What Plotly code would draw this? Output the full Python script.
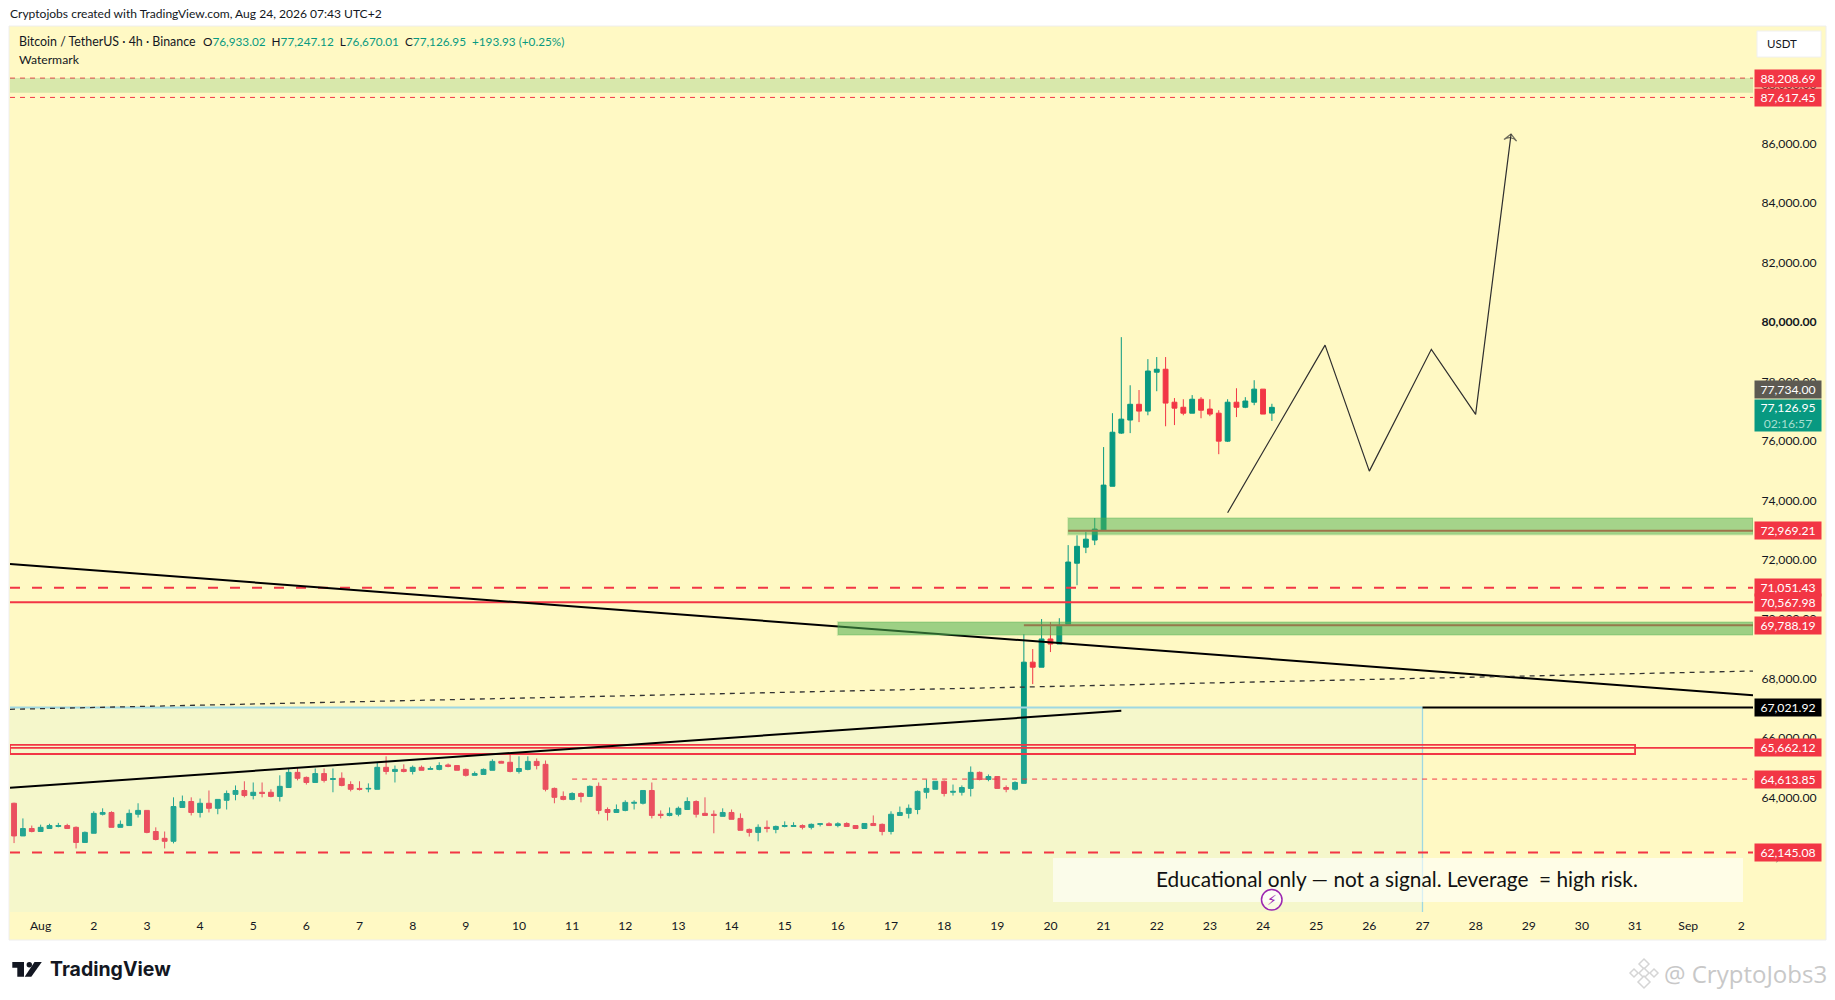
"""
BTC/USDT 4h chart with drawn levels, zones and projected path
"""
import pandas as pd
import plotly.graph_objects as go

# 4h bars, first one on Jul 31 12:00
bar_start = "2026-07-31 12:00"
opens = [
    63800, 62700, 62950, 62850, 62950, 63020, 63050, 62990, 62480, 62790, 63430, 63490,
    62990, 63050, 63430, 63560, 62850, 62620, 62520, 63660, 63860, 63490, 63800, 63630,
    63900, 64100, 64230, 64060, 64170, 64170, 64030, 64330, 64840, 64670, 64500, 64800,
    64600, 64640, 64430, 64300, 64280, 64270, 65010, 64870, 64940, 64870, 65010, 64940,
    64940, 65090, 65070, 64940, 64740, 64770, 64910, 65210, 65180, 64870, 64940, 65210,
    65110, 64300, 64030, 63930, 64130, 64030, 64370, 63590, 63490, 63560, 63800, 63800,
    64230, 63430, 63390, 63430, 63590, 63860, 63460, 63430, 63360, 63490, 63290, 62920,
    62820, 62990, 62920, 63020, 63020, 63050, 62990, 63090, 63110, 63050, 63120, 63050,
    62950, 63120, 63090, 62850, 63390, 63460, 63590, 64170, 64270, 64540, 64170, 64170,
    64300, 64840, 64600, 64700, 64330, 64270, 64470, 68550, 68380, 69330, 69160, 69830,
    71880, 72420, 72660, 72990, 74470, 76260, 76700, 77230, 77000, 78310, 78410, 77300,
    77130, 76930, 77400, 77070, 76930, 75990, 77300, 77130, 77300, 77740, 76933.02,
]
highs = [
    63820, 63290, 63050, 63080, 63110, 63140, 63110, 63020, 62850, 63530, 63630, 63530,
    63220, 63590, 63800, 63560, 62990, 62850, 64000, 64060, 64000, 63960, 64230, 63930,
    64230, 64400, 64540, 64500, 64500, 64270, 64740, 64970, 65010, 64700, 64970, 64970,
    64970, 64840, 64540, 64540, 64470, 65180, 65380, 65070, 65110, 65070, 65070, 65040,
    65180, 65140, 65070, 64970, 64870, 64970, 65280, 65230, 65440, 65380, 65380, 65310,
    65240, 64330, 64200, 64170, 64170, 64400, 64500, 63660, 63760, 63900, 63900, 64230,
    64500, 63560, 63660, 63690, 64000, 63900, 64000, 63560, 63630, 63590, 63460, 62950,
    63090, 63220, 63050, 63190, 63160, 63090, 63120, 63120, 63160, 63160, 63160, 63050,
    63120, 63390, 63120, 63530, 63690, 63760, 64230, 64600, 64540, 64570, 64430, 64400,
    65040, 64870, 64770, 64700, 64400, 64540, 69490, 68990, 70000, 69900, 70030, 72490,
    72820, 72930, 73400, 75790, 76930, 79490, 77870, 77710, 78750, 78820, 78820, 77440,
    77400, 77540, 77470, 77400, 77030, 77400, 77770, 77470, 78040, 77740, 77247.12,
]
lows = [
    62460, 62700, 62820, 62850, 62950, 62990, 62950, 62280, 62480, 62790, 63390, 62990,
    62990, 63050, 63320, 62790, 62550, 62280, 62450, 63660, 63390, 63320, 63490, 63430,
    63590, 63900, 64000, 63930, 64000, 64000, 63860, 64330, 64570, 64430, 64500, 64500,
    64170, 64370, 64200, 64230, 64170, 64270, 64770, 64500, 64840, 64770, 64910, 64940,
    64910, 65010, 64910, 64700, 64740, 64770, 64910, 65150, 64840, 64800, 64910, 64940,
    64200, 63800, 63900, 63900, 63830, 64030, 63430, 63220, 63490, 63530, 63590, 63760,
    63290, 63290, 63360, 63360, 63590, 63320, 63390, 62790, 63360, 63260, 62890, 62680,
    62520, 62820, 62790, 62990, 63020, 62920, 62920, 63020, 63050, 62990, 63020, 62950,
    62950, 63050, 62720, 62750, 63390, 63290, 63430, 63960, 64270, 64030, 64060, 64060,
    64030, 64570, 64540, 64300, 64170, 64230, 64470, 67810, 68380, 68890, 69160, 69830,
    71140, 72220, 72490, 72990, 74470, 76230, 76260, 76630, 76860, 77670, 76490, 76530,
    76860, 76930, 76760, 76830, 75550, 75960, 76800, 77100, 77200, 76900, 76670.01,
]
closes = [
    62700, 62950, 62850, 62990, 63050, 63050, 62950, 62480, 62820, 63460, 63490, 62990,
    63090, 63460, 63560, 62820, 62580, 62520, 63690, 63860, 63490, 63800, 63630, 63930,
    64130, 64230, 64060, 64170, 64130, 64030, 64370, 64840, 64640, 64500, 64800, 64570,
    64630, 64400, 64270, 64270, 64300, 65010, 64870, 64940, 64870, 65010, 64910, 64970,
    65070, 65040, 64910, 64740, 64800, 64940, 65210, 65150, 64870, 64970, 65210, 65070,
    64270, 64000, 63930, 64130, 64030, 64370, 63560, 63490, 63590, 63830, 63830, 64230,
    63390, 63390, 63460, 63630, 63860, 63430, 63390, 63390, 63490, 63260, 62890, 62820,
    62990, 62950, 63020, 63050, 63050, 62990, 63090, 63110, 63050, 63110, 63020, 62950,
    63120, 63050, 62850, 63430, 63490, 63630, 64200, 64300, 64540, 64130, 64200, 64330,
    64840, 64600, 64700, 64300, 64270, 64500, 68550, 68380, 69330, 69160, 69760, 71920,
    72450, 72690, 73030, 74510, 76290, 76730, 77230, 77000, 78350, 78410, 77270, 77100,
    76930, 77400, 77030, 76900, 75990, 77300, 77130, 77340, 77740, 76900, 77126.95,
]

# axis
x_range = ["2026-07-31 10:10", "2026-09-02 05:15"]
y_range = [60140, 89930]
price_ticks = [62000 + 2000 * i for i in range(14)]
price_tick_labels = [f"<b>{p:,.2f}</b>" if p == 80000 else f"{p:,.2f}" for p in price_ticks]
date_ticks = [f"2026-08-{d:02d}" for d in range(1, 32)] + ["2026-09-01", "2026-09-02"]
date_labels = ["Aug"] + [str(d) for d in range(2, 32)] + ["Sep", "2"]

# drawn levels
level_top = 88208.69
level_top_low = 87617.45
level_zone_high = 72969.21
level_dash_mid = 71051.43
level_solid_mid = 70567.98
level_zone_mid = 69788.19
level_box = 67021.92
level_range = 65662.12
level_dash_thin = 64613.85
level_dash_low = 62145.08
last_high = 77734.00
last_close = 77126.95

# trend lines: (x0, x1), (y0, y1)
falling_x = ["2026-07-31 10:10", "2026-09-02 05:15"]
falling_y = [71854, 67434]
rising_x = ["2026-07-31 10:10", "2026-08-21 08:00"]
rising_y = [64324, 66915]
dashed_x = ["2026-07-31 10:10", "2026-09-02 05:15"]
dashed_y = [66962, 68251]

# projected path
path_x = ["2026-08-23 08:00", "2026-08-25 04:00", "2026-08-26 00:00",
          "2026-08-27 04:00", "2026-08-28 00:00", "2026-08-28 16:00"]
path_y = [73580, 79220, 74980, 79080, 76890, 86326]

RED = "#F23645"
GREEN = "#089981"
TEXT = "#131722"
PANEL = "#FFF9C4"
BOX_LINE = "#9FD8E2"
FONT = "Lato"


def px_x(x):
    """pixel to paper coordinates, plot area is x 10..1753"""
    return (x - 10) / 1743


def px_y(y):
    """pixel to paper coordinates, plot area is y 27..912"""
    return 1 - (y - 27) / 885


def paper_rect(x0, y0, x1, y1, **kwargs):
    return dict(type="rect", xref="paper", yref="paper", x0=px_x(x0), x1=px_x(x1),
                y0=px_y(y0), y1=px_y(y1), **kwargs)


def paper_path(points, **kwargs):
    path = "M" + " L".join(f"{px_x(x)},{px_y(y)}" for x, y in points) + " Z"
    return dict(type="path", xref="paper", yref="paper", path=path, **kwargs)


def hline(y, color, width, dash="solid", x0=None, x1=None):
    """horizontal line, by default across the whole plot"""
    return dict(type="line", xref="x", yref="y", x0=x0 or x_range[0], x1=x1 or x_range[1], y0=y, y1=y,
                line=dict(color=color, width=width, dash=dash), layer="above")


def segment(xs, ys, color, width, dash="solid"):
    return dict(type="line", xref="x", yref="y", x0=xs[0], x1=xs[1], y0=ys[0], y1=ys[1],
                line=dict(color=color, width=width, dash=dash), layer="above")


def zone(x0, y0, y1, alpha):
    return dict(type="rect", xref="x", yref="y", x0=x0, x1=x_range[1], y0=y0, y1=y1,
                fillcolor=f"rgba(76,175,80,{alpha})",
                line=dict(color="rgba(76,175,80,0.2)", width=2), layer="above")


def price_label(price, bg=RED, shift=0):
    return dict(xref="paper", yref="y", x=1, y=price, xanchor="left", xshift=1, yshift=shift,
                text=f"{price:,.2f}", showarrow=False, width=66, height=17,
                bgcolor=bg, borderpad=0, font=dict(family=FONT, size=12.2, color="white"))


def page_text(x, y, text, size, color=TEXT, family=FONT, anchor="left"):
    return dict(xref="paper", yref="paper", x=px_x(x), y=px_y(y), xanchor=anchor, yanchor="middle",
                text=text, showarrow=False, borderpad=0, font=dict(family=family, size=size, color=color))


bar_times = pd.date_range(bar_start, periods=len(opens), freq="4h")

fig = go.Figure()
fig.add_trace(go.Candlestick(
    x=bar_times, open=opens, high=highs, low=lows, close=closes,
    increasing=dict(line=dict(color=GREEN, width=1), fillcolor=GREEN),
    decreasing=dict(line=dict(color=RED, width=1), fillcolor=RED),
    whiskerwidth=0,
))
fig.add_trace(go.Scatter(
    x=path_x, y=path_y, mode="lines", line=dict(color="#2f2f2f", width=1.2),
))
fig.add_trace(go.Scatter(
    x=path_x[-2:], y=path_y[-2:], mode="markers",
    marker=dict(symbol="arrow-wide-open", size=[0, 9], angleref="previous",
                color="#2f2f2f", line=dict(color="#2f2f2f", width=1.2)),
))

shapes = [
    # outer frame and panels behind the axes
    paper_rect(9, 26, 1826, 940, fillcolor=PANEL, line=dict(color="#EEEEEE", width=1), layer="below"),
    # drawn range box, only top and right edges show
    dict(type="rect", xref="x", yref="y", x0=x_range[0], x1="2026-08-27", y0=y_range[0], y1=level_box,
         fillcolor="rgba(190,235,245,0.15)", line_width=0, layer="above"),
    hline(level_box, BOX_LINE, 2, x1="2026-08-27"),
    dict(type="line", xref="x", yref="y", x0="2026-08-27", x1="2026-08-27", y0=y_range[0], y1=level_box,
         line=dict(color=BOX_LINE, width=1.3), layer="above"),
    hline(level_box, "#000000", 2, x0="2026-08-27"),
    # red levels
    hline(level_top, RED, 1, "5px,5px"),
    hline(87560, RED, 1, "5px,5px"),
    hline(level_dash_mid, RED, 2, "10px,12px"),
    hline(level_solid_mid, RED, 2),
    hline(level_range, RED, 1.8),
    hline(level_dash_thin, RED, 1, "5px,5px", x0="2026-08-11"),
    hline(level_dash_low, RED, 2, "10px,12px"),
    dict(type="rect", xref="x", yref="y", x0=x_range[0], x1="2026-08-31", y0=65458, y1=65765,
         line=dict(color=RED, width=1.8), layer="above"),
    hline(level_zone_high, RED, 2, x0="2026-08-20 08:00"),
    hline(level_zone_mid, RED, 2, x0="2026-08-19 12:00"),
    # trend lines
    segment(falling_x, falling_y, "#000000", 2),
    segment(rising_x, rising_y, "#000000", 2),
    segment(dashed_x, dashed_y, "#333333", 1.3, "5px,5px"),
    # green zones
    dict(type="rect", xref="x", yref="y", x0=x_range[0], x1=x_range[1], y0=87716, y1=88211,
         fillcolor="rgba(76,175,80,0.22)", line_width=0, layer="above"),
    zone("2026-08-20 08:00", 72845, 73400, 0.5),
    zone("2026-08-16", 69463, 69901, 0.55),
    # note box and lightning badge
    paper_rect(1053, 858, 1743, 902, fillcolor="rgba(255,255,255,0.6)", line_width=0),
    dict(type="circle", xref="paper", yref="paper", x0=px_x(1261.5), x1=px_x(1282), y0=px_y(889.5), y1=px_y(910),
         fillcolor="rgba(255,255,255,0.5)", line=dict(color="#9C27B0", width=1.5)),
    # currency button
    dict(type="rect", xref="paper", yref="paper", x0=px_x(1757), x1=px_x(1821), y0=px_y(31), y1=px_y(57),
         fillcolor="white", line=dict(color="#F0F0F0", width=1)),
    # TradingView logo
    paper_path([(12.3, 962), (24, 962), (24, 976.7), (17.3, 976.7), (17.3, 967.7), (12.3, 967.7)],
               fillcolor="#131722", line_width=0),
    dict(type="circle", xref="paper", yref="paper", x0=px_x(26.6), x1=px_x(32), y0=px_y(962), y1=px_y(967.4),
         fillcolor="#131722", line_width=0),
    paper_path([(34.5, 962), (41.8, 962), (31.3, 976.7), (24.7, 976.7)], fillcolor="#131722", line_width=0),
]
# binance style diamonds in the watermark
for cx, cy, r in [(1644, 964, 5), (1644, 973, 5), (1634, 973, 4), (1654, 973, 4), (1644, 982, 6)]:
    shapes.append(paper_path([(cx, cy - r), (cx + r, cy), (cx, cy + r), (cx - r, cy)],
                             fillcolor="white", line=dict(color="#D5D5D5", width=1.5)))

legend_values = (
    f"<span style='color:{TEXT}'>O</span>76,933.02\u00a0\u00a0"
    f"<span style='color:{TEXT}'>H</span>77,247.12\u00a0\u00a0"
    f"<span style='color:{TEXT}'>L</span>76,670.01\u00a0\u00a0"
    f"<span style='color:{TEXT}'>C</span>77,126.95\u00a0\u00a0+193.93 (+0.25%)"
)

annotations = [
    page_text(9, 14, "Cryptojobs created with TradingView.com, Aug 24, 2026 07:43 UTC+2", 12.05),
    page_text(18, 41, "Bitcoin / TetherUS · 4h · Binance", 12.4),
    page_text(202, 41, legend_values, 11.75, color=GREEN),
    page_text(18, 59, "Watermark", 12.2),
    page_text(1766, 44, "USDT", 11.5),
    page_text(1397, 878, "Educational only — not a signal. Leverage  = high risk.", 20.8, color="#111111", anchor="center"),
    page_text(1271.8, 899.5, "⚡", 14, color="#9C27B0", family="DejaVu Sans", anchor="center"),
    page_text(49, 969, "<b>TradingView</b>", 19.5, color="#131722", family="Inter"),
    page_text(1663, 973, "@ CryptoJobs3", 24, color="#C8C8C8", family="Open Sans"),
    price_label(level_top),
    price_label(level_top_low, shift=-2),
    price_label(level_zone_high),
    price_label(level_dash_mid),
    price_label(level_solid_mid),
    price_label(level_zone_mid),
    price_label(level_box, bg="#000000"),
    price_label(level_range),
    price_label(level_dash_thin),
    price_label(level_dash_low),
    price_label(last_high, bg="#5D5A52"),
    # last price box also carries the bar countdown
    dict(xref="paper", yref="y", x=1, y=last_close, xanchor="left", yanchor="top", xshift=1, yshift=8,
         text=f"{last_close:,.2f}<br><span style='color:#A5DFD0'>02:16:57</span>", showarrow=False,
         width=66, height=31, bgcolor=GREEN, borderpad=0, font=dict(family=FONT, size=12.2, color="white")),
]

fig.update_layout(
    width=1835, height=1000,
    margin=dict(l=10, r=82, t=27, b=88),
    paper_bgcolor="white", plot_bgcolor=PANEL,
    showlegend=False, boxgap=0.22,
    font=dict(family=FONT, color=TEXT, size=12.2),
    shapes=shapes, annotations=annotations,
    xaxis=dict(
        range=x_range, type="date", rangeslider=dict(visible=False),
        tickmode="array", tickvals=date_ticks, ticktext=date_labels,
        showgrid=False, zeroline=False, ticks="outside", ticklen=2, tickcolor=PANEL,
    ),
    yaxis=dict(
        range=y_range, side="right", tickmode="array", tickvals=price_ticks, ticktext=price_tick_labels,
        showgrid=False, zeroline=False, ticks="outside", ticklen=5, tickcolor=PANEL,
    ),
)

fig.write_html("out.html", config={"displayModeBar": False},
               post_script="document.body.style.margin='0';document.body.style.overflow='hidden';")
